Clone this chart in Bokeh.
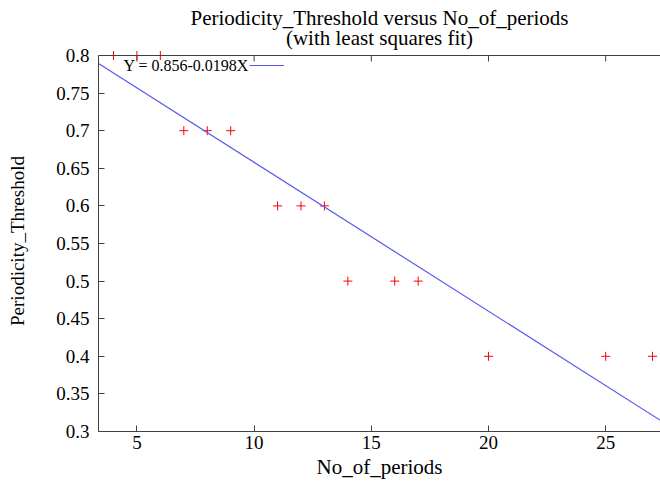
from bokeh.plotting import figure
from bokeh.models import FixedTicker, Label, Legend, LegendItem, Range1d, Title, Span
from bokeh.embed import file_html
from bokeh.resources import INLINE

# ---- data ----
x_vals = [4, 5, 6, 7, 8, 9, 11, 12, 13, 14, 16, 17, 20, 25, 27]
y_vals = [0.8, 0.8, 0.8, 0.7, 0.7, 0.7, 0.6, 0.6, 0.6, 0.5, 0.5, 0.5, 0.4, 0.4, 0.4]
fit_intercept = 0.856
fit_slope = -0.0198
x_ticks = [5, 10, 15, 20, 25]
y_ticks = [0.3, 0.35, 0.4, 0.45, 0.5, 0.55, 0.6, 0.65, 0.7, 0.75, 0.8]
y_tick_labels = ["0.3", "0.35", "0.4", "0.45", "0.5", "0.55", "0.6", "0.65", "0.7", "0.75", "0.8"]
title_line1 = "Periodicity_Threshold versus No_of_periods"
title_line2 = "(with least squares fit)"
x_label = "No_of_periods"
y_label = "Periodicity_Threshold"

FONT = "'Liberation Serif'"
AXIS_COLOR = "#404040"

# layout: plot box 0.3..0.8 is 376 px tall; the frame reaches a few px higher so
# the markers sitting on the top edge are not cut off
BOX_H = 376
PAD = 5
x_lo, x_hi = 3.36, 27.34
y_lo, y_top = 0.3, 0.8
px_per_y = BOX_H / (y_top - y_lo)
y_hi = y_top + PAD / px_per_y

p = figure(width=660, height=482, output_backend="svg", toolbar_location=None,
           x_range=Range1d(x_lo, x_hi), y_range=Range1d(y_lo, y_hi),
           min_border_left=98, min_border_right=0, min_border_top=55 - PAD, min_border_bottom=51)
p.outline_line_color = None
p.grid.visible = False
p.background_fill_color = "white"
p.border_fill_color = "white"

def style_axis(ax):
    ax.axis_line_color = AXIS_COLOR
    ax.axis_line_width = 1
    ax.major_tick_line_color = AXIS_COLOR
    ax.major_tick_in = 6
    ax.major_tick_out = 0
    ax.minor_tick_line_color = None
    ax.major_label_text_font = FONT
    ax.major_label_text_font_size = "19px"
    ax.major_label_text_color = "black"
    ax.axis_label_text_font = FONT
    ax.axis_label_text_font_style = "normal"
    ax.axis_label_text_color = "black"

xa = p.xaxis[0]
style_axis(xa)
xa.ticker = FixedTicker(ticks=x_ticks)
xa.axis_label = x_label
xa.axis_label_text_font_size = "21px"
xa.major_label_standoff = 4
xa.axis_label_standoff = 3

ya = p.yaxis[0]
style_axis(ya)
ya.ticker = FixedTicker(ticks=y_ticks)
ya.bounds = (y_lo, y_top)
ya.major_label_overrides = {t: l for t, l in zip(y_ticks, y_tick_labels)}
ya.axis_label = y_label
ya.axis_label_text_font_size = "19px"
ya.major_label_standoff = 9
ya.axis_label_standoff = 25

# top border of the plot box and its inward ticks
p.add_layout(Span(location=y_top, dimension="width", line_color=AXIS_COLOR, line_width=1))
tick_len = 6 / px_per_y
p.segment(x0=x_ticks, y0=[y_top] * len(x_ticks), x1=x_ticks,
          y1=[y_top - tick_len] * len(x_ticks), line_color=AXIS_COLOR, line_width=1)

# two-line title, each line centred (inner line added first)
for line, so in ((title_line2, 1), (title_line1, -13)):
    p.add_layout(Title(text=line, text_font=FONT, text_font_size="21px",
                       text_font_style="normal", text_color="black", align="center",
                       standoff=so, offset=-5), "above")

# data points
p.scatter(x_vals, y_vals, marker="cross", size=9, line_color="red", line_width=1)

# least squares fit line over the x range
fit_x = [x_lo, x_hi]
fit_y = [fit_intercept + fit_slope * x for x in fit_x]
fit_r = p.line(fit_x, fit_y, line_color="#5858f0", line_width=1.2)

legend = Legend(items=[LegendItem(label=" ", renderers=[fit_r])],
                location=(151, 361), padding=0, margin=0, spacing=0,
                glyph_width=35, glyph_height=10, label_width=0, label_height=10,
                label_standoff=0, label_text_font_size="1px",
                border_line_color=None, background_fill_alpha=0)
p.add_layout(legend)

fit_text = f"Y = {fit_intercept}-{abs(fit_slope)}X"
p.add_layout(Label(x=25, y=366, x_units="screen", y_units="screen", text=fit_text,
                   text_font=FONT, text_font_size="16px", text_baseline="middle",
                   text_align="left", text_color="black"))

open("out.html", "w").write(file_html(p, INLINE))
